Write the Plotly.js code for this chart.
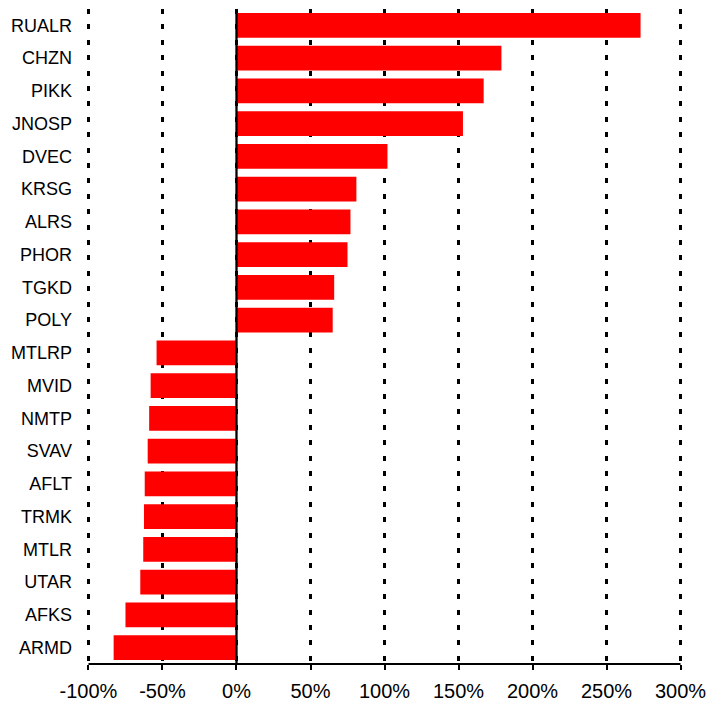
<!DOCTYPE html>
<html>
<head>
<meta charset="utf-8">
<script src="https://cdn.plot.ly/plotly-3.0.1.min.js"></script>
<style>html,body{margin:0;padding:0;background:#fff;}#chart{width:710px;height:702px;}</style>
</head>
<body>
<div id="chart"></div>
<script>
const tickers = ["RUALR","CHZN","PIKK","JNOSP","DVEC","KRSG","ALRS","PHOR","TGKD","POLY",
                 "MTLRP","MVID","NMTP","SVAV","AFLT","TRMK","MTLR","UTAR","AFKS","ARMD"];
const changes = [2.73, 1.79, 1.67, 1.53, 1.02, 0.81, 0.77, 0.75, 0.66, 0.65,
                 -0.54, -0.58, -0.59, -0.60, -0.62, -0.625, -0.63, -0.65, -0.75, -0.83];
const xTickVals = [-1, -0.5, 0, 0.5, 1, 1.5, 2, 2.5, 3];
const xTickText = ["-100%","-50%","0%","50%","100%","150%","200%","250%","300%"];

const trace = {
  type: "bar",
  orientation: "h",
  x: changes,
  y: tickers,
  marker: {color: "#FF0000", line: {width: 0}},
  hoverinfo: "skip"
};

const layout = {
  width: 710, height: 702,
  margin: {l: 87, r: 28, t: 9, b: 38, pad: 0},
  paper_bgcolor: "#fff", plot_bgcolor: "#fff",
  showlegend: false,
  bargap: 0.24,
  font: {family: "Liberation Sans, Arial, sans-serif", color: "#000"},
  xaxis: {
    range: [-1.01, 3.01],
    tickvals: xTickVals,
    ticktext: xTickText,
    tickfont: {size: 20, color: "#000"},
    showgrid: true,
    gridcolor: "#000",
    gridwidth: 3,
    griddash: "5px,10.4px",
    zeroline: false,
    showline: false,
    ticks: "outside",
    ticklen: 5,
    tickwidth: 2,
    tickcolor: "#000",
    ticklabelstandoff: 4,
    fixedrange: true
  },
  yaxis: {
    type: "category",
    categoryorder: "array",
    categoryarray: tickers,
    autorange: "reversed",
    tickfont: {size: 18, color: "#000"},
    showgrid: false,
    zeroline: false,
    showline: false,
    ticks: "",
    ticklabelstandoff: 14,
    fixedrange: true
  },
  shapes: [
    {
      type: "line", xref: "x", yref: "paper",
      x0: 0, x1: 0, y0: 0, y1: 1,
      line: {color: "#000", width: 2.3},
      layer: "above"
    },
    {
      type: "line", xref: "x", yref: "paper",
      x0: xTickVals[0], x1: xTickVals[xTickVals.length - 1], y0: 0, y1: 0,
      line: {color: "#000", width: 2},
      layer: "above"
    }
  ]
};

Plotly.newPlot("chart", [trace], layout, {displayModeBar: false, staticPlot: true});
</script>
</body>
</html>
